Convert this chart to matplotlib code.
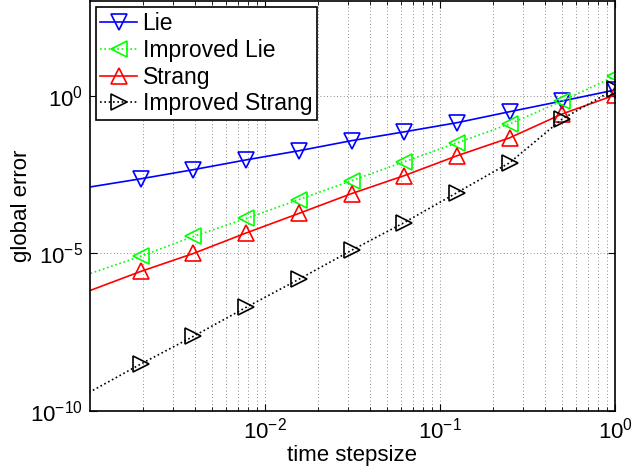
import numpy as np
import matplotlib
matplotlib.use("Agg")
import matplotlib.pyplot as plt

plt.rcParams['font.family'] = ['Liberation Sans', 'DejaVu Sans']
plt.rcParams['mathtext.default'] = 'regular'

# step sizes h = 1, 1/2, ..., 1/1024 (last one is just past the left edge)
h = [1, 1/2, 1/4, 1/8, 1/16, 1/32, 1/64, 1/128, 1/256, 1/512, 1/1024]

# log10 of the global error
lie_log = [0.19, -0.16, -0.50, -0.85, -1.14, -1.42, -1.74, -2.03, -2.34, -2.63, -2.90]
ilie_log = [0.63, -0.16, -0.89, -1.49, -2.09, -2.69, -3.29, -3.89, -4.46, -5.09, -5.66]
strang_log = [0.03, -0.57, -1.33, -1.90, -2.53, -3.10, -3.73, -4.35, -5.00, -5.57, -6.20]
istrang_log = [0.22, -0.73, -2.12, -3.07, -4.02, -4.90, -5.82, -6.71, -7.63, -8.51, -9.43]

labels = ["Lie", "Improved Lie", "Strang", "Improved Strang"]

fig = plt.figure(figsize=(6.33, 4.74), dpi=100)
ax = fig.add_axes([0.142, 0.133, 0.8296, 0.864])

dot = (0, (1, 1.6))
series = [
    (lie_log, 'b', '-', 'v'),
    (ilie_log, (0, 1, 0), dot, '<'),
    (strang_log, 'r', '-', '^'),
    (istrang_log, 'k', dot, '>'),
]
for (vals, c, ls, m), lab in zip(series, labels):
    ax.loglog(h, 10.0 ** np.array(vals), color=c, linestyle=ls, lw=1.2,
              marker=m, ms=11.5, mfc='none', mec=c, mew=1.2,
              markevery=slice(0, 10), label=lab)

ax.set_xlim(1e-3, 1)
ax.set_ylim(1e-10, 1e3)
ax.set_xticks([1e-2, 1e-1, 1])
ax.set_xticklabels(['$10^{-2}$', '$10^{-1}$', '$10^{0}$'])
ax.set_yticks([1e-10, 1e-5, 1])
ax.set_yticklabels(['$10^{-10}$', '$10^{-5}$', '$10^{0}$'])
ax.yaxis.set_minor_locator(matplotlib.ticker.NullLocator())
ax.tick_params(which='both', direction='in', top=True, right=True, labelsize=16)
ax.tick_params(which='major', length=5, width=0.8, pad=5)
ax.tick_params(which='minor', length=3, width=0.6)
ax.grid(True, which='major', axis='both', linestyle=(0, (1, 3)), color='0.4', lw=0.6)
ax.grid(True, which='minor', axis='x', linestyle=(0, (1, 3)), color='0.4', lw=0.6)
for s in ax.spines.values():
    s.set_linewidth(1.2)

ax.set_xlabel("time stepsize", fontsize=16, labelpad=1)
ax.set_ylabel("global error", fontsize=16)
ax.yaxis.set_label_coords(-0.11, 0.5)

leg = ax.legend(loc='upper left', fontsize=16.5, handlelength=1.6, labelspacing=0.17,
                borderpad=0.2, handletextpad=0.25, borderaxespad=0.25,
                fancybox=False, framealpha=1, edgecolor='k')
leg.get_frame().set_linewidth(1.2)

fig.savefig("out.png", dpi=100)
